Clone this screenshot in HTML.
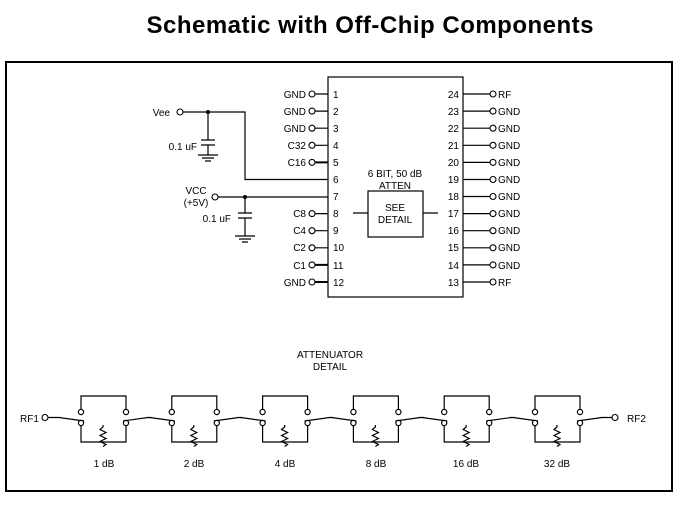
<!DOCTYPE html>
<html><head><style>
body{margin:0;background:#fff;width:685px;height:512px;overflow:hidden}
svg{display:block}
text{font-family:"Liberation Sans",sans-serif;font-size:10px;fill:#000}
</style></head><body>
<svg width="685" height="512" viewBox="0 0 685 512">
<defs>
<g id="stg" fill="none" stroke="#000" stroke-width="1.2">
<path d="M0,409.5V396H45V409.5"/>
<path d="M0,425.5V442H45V425.5"/>
<path d="M22,425 l0,2 l-3,2.5 l6,3 l-6,3 l6,3 l-6,3 l6,3 l-3,2"/>
<path d="M-22,417.5L3,421"/>
<path d="M42,421L67,417.5"/>
<circle cx="0" cy="412" r="2.6" fill="#fff"/>
<circle cx="0" cy="423" r="2.6" fill="#fff"/>
<circle cx="45" cy="412" r="2.6" fill="#fff"/>
<circle cx="45" cy="423" r="2.6" fill="#fff"/>
</g>
<g id="gnd" stroke="#000" stroke-width="1.2"><path d="M-10,0H10M-6,3H6M-3,6H3"/></g>
</defs>
<text x="370" y="33" text-anchor="middle" textLength="447" style="font-size:24px;font-weight:bold">Schematic with Off-Chip Components</text>
<rect x="6" y="62" width="666" height="429" fill="none" stroke="#000" stroke-width="2"/>

<g fill="none" stroke="#000" stroke-width="1.2">
<rect x="328" y="77" width="135" height="220"/>
<rect x="368" y="191" width="55" height="46"/>
<path d="M353,213H368M423,213H438"/>
<path d="M315,94H328M315,111.1H328M315,128.2H328M315,145.3H328M315,213.6H328M315,230.7H328M315,247.8H328"/>
<path d="M315,162.4H328M315,264.9H328M315,282H328" stroke-width="2"/>
<path d="M463,94H490M463,111.1H490M463,128.2H490M463,145.3H490M463,162.4H490M463,179.5H490M463,196.5H490M463,213.6H490M463,230.7H490M463,247.8H490M463,264.9H490M463,282H490"/>
<path d="M183,112H245V179.5H328"/>
<path d="M208,112V140M201,140H215M201,145H215M208,145V155"/>
<path d="M218,197H328"/>
<path d="M245,197V213M238,213H252M238,218H252M245,218V236"/>
</g>
<use href="#gnd" x="208" y="155"/>
<use href="#gnd" x="245" y="236"/>
<circle cx="208" cy="112" r="2" fill="#000"/>
<circle cx="245" cy="197" r="2" fill="#000"/>
<g fill="#fff" stroke="#000" stroke-width="1.1">
<circle cx="180" cy="112" r="3"/>
<circle cx="215" cy="197" r="3"/>
<circle cx="312" cy="94" r="3"/><circle cx="312" cy="111.1" r="3"/><circle cx="312" cy="128.2" r="3"/><circle cx="312" cy="145.3" r="3"/><circle cx="312" cy="162.4" r="3"/><circle cx="312" cy="213.6" r="3"/><circle cx="312" cy="230.7" r="3"/><circle cx="312" cy="247.8" r="3"/><circle cx="312" cy="264.9" r="3"/><circle cx="312" cy="282" r="3"/>
<circle cx="493" cy="94" r="3"/><circle cx="493" cy="111.1" r="3"/><circle cx="493" cy="128.2" r="3"/><circle cx="493" cy="145.3" r="3"/><circle cx="493" cy="162.4" r="3"/><circle cx="493" cy="179.5" r="3"/><circle cx="493" cy="196.5" r="3"/><circle cx="493" cy="213.6" r="3"/><circle cx="493" cy="230.7" r="3"/><circle cx="493" cy="247.8" r="3"/><circle cx="493" cy="264.9" r="3"/><circle cx="493" cy="282" r="3"/>
</g>
<text x="170" y="116" text-anchor="end">Vee</text>
<text x="197" y="150" text-anchor="end">0.1 uF</text>
<text x="196" y="194" text-anchor="middle">VCC</text>
<text x="196" y="206" text-anchor="middle">(+5V)</text>
<text x="231" y="222" text-anchor="end">0.1 uF</text>
<g text-anchor="end">
<text x="306" y="98">GND</text><text x="306" y="115">GND</text><text x="306" y="132">GND</text><text x="306" y="149">C32</text><text x="306" y="166">C16</text><text x="306" y="217">C8</text><text x="306" y="234">C4</text><text x="306" y="251">C2</text><text x="306" y="269">C1</text><text x="306" y="286">GND</text>
<text x="459" y="98">24</text><text x="459" y="115">23</text><text x="459" y="132">22</text><text x="459" y="149">21</text><text x="459" y="166">20</text><text x="459" y="183">19</text><text x="459" y="200">18</text><text x="459" y="217">17</text><text x="459" y="234">16</text><text x="459" y="251">15</text><text x="459" y="269">14</text><text x="459" y="286">13</text>
</g>
<g>
<text x="333" y="98">1</text><text x="333" y="115">2</text><text x="333" y="132">3</text><text x="333" y="149">4</text><text x="333" y="166">5</text><text x="333" y="183">6</text><text x="333" y="200">7</text><text x="333" y="217">8</text><text x="333" y="234">9</text><text x="333" y="251">10</text><text x="333" y="269">11</text><text x="333" y="286">12</text>
<text x="498" y="98">RF</text><text x="498" y="115">GND</text><text x="498" y="132">GND</text><text x="498" y="149">GND</text><text x="498" y="166">GND</text><text x="498" y="183">GND</text><text x="498" y="200">GND</text><text x="498" y="217">GND</text><text x="498" y="234">GND</text><text x="498" y="251">GND</text><text x="498" y="269">GND</text><text x="498" y="286">RF</text>
</g>
<text x="395" y="177" text-anchor="middle">6 BIT, 50 dB</text>
<text x="395" y="189" text-anchor="middle">ATTEN</text>
<text x="395" y="211" text-anchor="middle">SEE</text>
<text x="395" y="223" text-anchor="middle">DETAIL</text>

<text x="330" y="358" text-anchor="middle">ATTENUATOR</text>
<text x="330" y="370" text-anchor="middle">DETAIL</text>
<use href="#stg" x="81"/>
<use href="#stg" x="171.8"/>
<use href="#stg" x="262.6"/>
<use href="#stg" x="353.4"/>
<use href="#stg" x="444.2"/>
<use href="#stg" x="535"/>
<path d="M48,417.5H60M147,417.5H151M238,417.5H242M329,417.5H333M419,417.5H424M510,417.5H514M601,417.5H612" stroke="#000" stroke-width="1.2"/>
<circle cx="45" cy="417.5" r="3" fill="#fff" stroke="#000" stroke-width="1.1"/>
<circle cx="615" cy="417.5" r="3" fill="#fff" stroke="#000" stroke-width="1.1"/>
<text x="20" y="422">RF1</text>
<text x="627" y="422">RF2</text>
<g text-anchor="middle">
<text x="104" y="467">1 dB</text>
<text x="194" y="467">2 dB</text>
<text x="285" y="467">4 dB</text>
<text x="376" y="467">8 dB</text>
<text x="466" y="467">16 dB</text>
<text x="557" y="467">32 dB</text>
</g>
</svg>
</body></html>
